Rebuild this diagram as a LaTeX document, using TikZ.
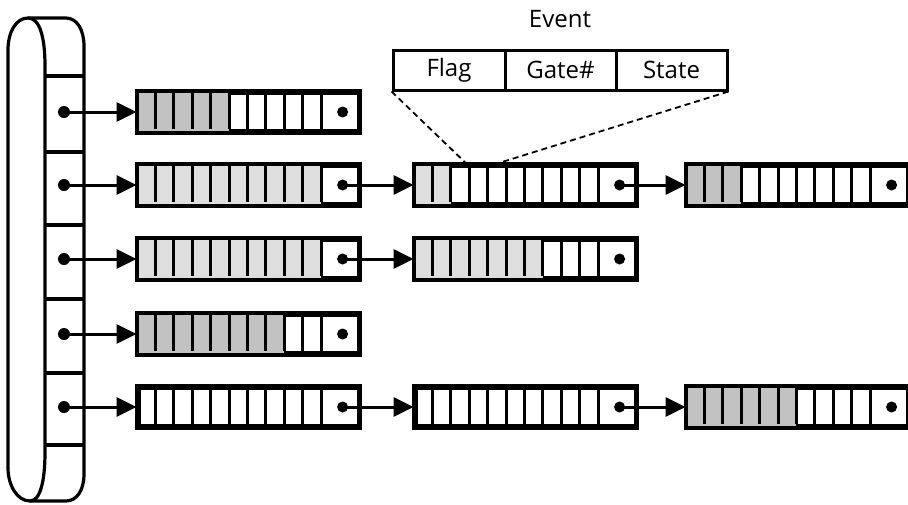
\documentclass[tikz,border=0pt]{standalone}
\usepackage{fontspec}
\setmainfont{Open Sans}
\usetikzlibrary{arrows.meta,calc}

\tikzset{
  qbox/.style={draw, line width=3.6pt, minimum width=220pt, minimum height=38pt,
               inner sep=0pt, fill=white},
  qrim/.style={line width=3.6pt},
  cellrule/.style={line width=3pt},
  dense/.style={fill=black!24},
  light/.style={fill=black!13},
  ptr/.style={line width=3pt, -{Triangle[length=20pt,width=19pt]}, shorten >=0.5pt},
  ptrdot/.style={fill=black},
  field/.style={draw, line width=3pt, minimum width=111pt, minimum height=40pt,
                inner sep=0pt, font=\fontsize{24}{24}\selectfont},
  drum/.style={line width=3.2pt, line join=round},
  zoomline/.style={line width=1.8pt, dash pattern=on 6pt off 4pt},
}

% \qblock{name}{left x}{centre y}{shaded cells}{fill style}
\newcommand\qblock[5]{%
  \node[qbox, anchor=west] (#1) at (#2,#3) {};
  \ifnum#4>0
    \foreach \i in {1,...,#4}
      \fill[#5] ($(#1.west)+(\i*18.4-18.4,-19)$) rectangle ++(18.4,38);
  \fi
  \foreach \i in {1,...,10}
    \draw[cellrule] ($(#1.north west)+(\i*18.4,0)$) -- ++(0,38);
  \draw[qrim] (#1.north west) rectangle (#1.south east);
  \coordinate (#1-p) at ($(#1.east)+(-18,0)$);
  \fill[ptrdot] (#1-p) circle (5.5pt);
}

\begin{document}
\begin{tikzpicture}[x=1pt, y=-1pt]
\useasboundingbox (0,0) rectangle (908,504);

% the drum holding the list heads
\draw[drum] (28,18) -- (66,18) .. controls (77,18) and (84,30) .. (84,46)
  -- (84,474) .. controls (84,490) and (77,501) .. (66,501)
  -- (30,501) .. controls (17,501) and (8,485) .. (8,468)
  -- (8,50) .. controls (8,32) and (16,18) .. (28,18) -- cycle;
\draw[drum] (28,18) .. controls (40,18) and (45,38) .. (45,66)
  -- (45,452) .. controls (45,482) and (40,501) .. (30,501);
\foreach \y in {76,152,225,299,373,445}
  \draw[drum] (45,\y) -- (84,\y);

% list heads
\foreach \n/\y in {1/112,2/185,3/259,4/334,5/407} {
  \coordinate (d\n) at (64,\y);
  \fill[ptrdot] (d\n) circle (6pt);
}

% queue blocks
\qblock{A1}{137}{112}{5}{dense}
\qblock{A2}{137}{185}{10}{light}
\qblock{B2}{414}{185}{2}{light}
\qblock{C2}{686}{185}{3}{dense}
\qblock{A3}{137}{259}{10}{light}
\qblock{B3}{414}{259}{7}{light}
\qblock{A4}{137}{334}{8}{dense}
\qblock{A5}{137}{407}{0}{light}
\qblock{B5}{414}{407}{0}{light}
\qblock{C5}{686}{407}{6}{dense}

% pointers
\foreach \n in {1,...,5}
  \draw[ptr] (d\n) -- (A\n.west);
\draw[ptr] (A2-p) -- (B2.west);
\draw[ptr] (B2-p) -- (C2.west);
\draw[ptr] (A3-p) -- (B3.west);
\draw[ptr] (A5-p) -- (B5.west);
\draw[ptr] (B5-p) -- (C5.west);

% event record layout
\node[field, minimum width=112pt] (flag) at (449,70) {Flag};
\node[field] (gate) at (560.5,70) {Gate\#};
\node[field] (state) at (671.5,70) {State};
\node[font=\fontsize{24}{24}\selectfont] (event) at (560,19) {Event};

\coordinate (zl) at ($(B2.north west)+(53,0)$);
\coordinate (zr) at ($(B2.north west)+(81,0)$);
\draw[zoomline] (flag.south west) -- (zl);
\draw[zoomline] (state.south east) -- (zr);
\end{tikzpicture}
\end{document}
